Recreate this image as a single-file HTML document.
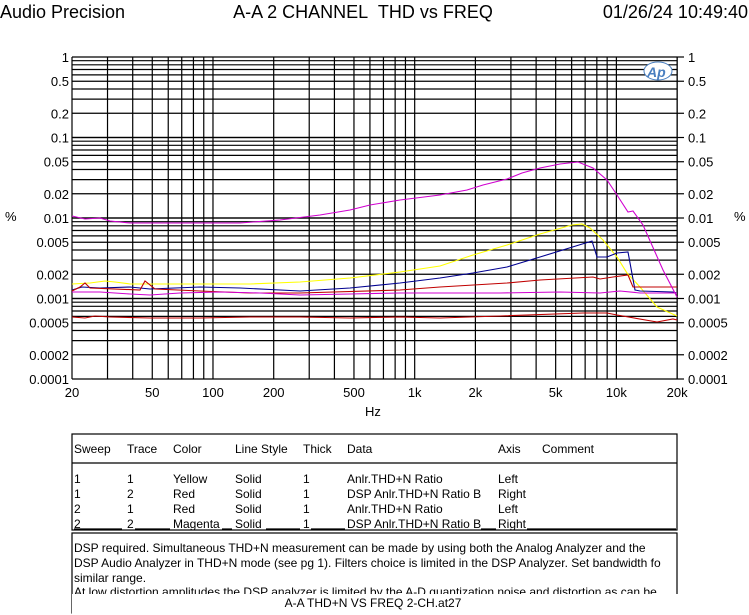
<!DOCTYPE html>
<html><head><meta charset="utf-8"><style>
body{margin:0;background:#fff;}
svg{display:block;font-family:"Liberation Sans",Arial,sans-serif;}
</style></head><body>
<svg width="749" height="615" viewBox="0 0 749 615" xmlns="http://www.w3.org/2000/svg">
<rect width="749" height="615" fill="#fff"/>
<text x="0" y="18" font-size="18">Audio Precision</text>
<text x="363" y="18" font-size="18" text-anchor="middle">A-A 2 CHANNEL&#160; THD vs FREQ</text>
<text x="748" y="18" font-size="18" text-anchor="end">01/26/24 10:49:40</text>
<g id="grid" stroke="#000" stroke-width="1.2"></g>
<g id="lbl" font-size="13"></g>
<text x="5" y="221" font-size="13">%</text>
<text x="734" y="221" font-size="13">%</text>
<text x="373" y="416" font-size="13" text-anchor="middle">Hz</text>
<ellipse cx="658" cy="71" rx="14" ry="9" fill="#fff" stroke="#4a7fc0" stroke-width="1"/>
<text x="647" y="77" font-size="14" font-style="italic" fill="#4a7fc0" font-weight="bold">Ap</text>
<g fill="none" stroke-width="1.1">
<polyline stroke="#ffff00" points="72,284 90,283 105,281 115,282 130,284 150,284 200,284 250,284 300,282 350,278 400,272 440,266 473,255 507,245 540,234 572,225 582,224 590,228 603,240 617,257 627,273 640,287 657,307 677,316"/>
<polyline stroke="#000090" points="72,290 82,287 100,288 130,287 150,289 200,287 240,288 300,291 350,288 400,283 440,278 473,273 507,267 540,257 592,241 597,257 607,257 617,253 628,252 635,290 640,291 673,292 677,293"/>
<polyline stroke="#c00000" points="72,291 80,287 85,283 90,288 140,290 145,281 155,289 200,291 250,293 300,293 400,290 440,287 507,283 540,280 593,277 600,279 613,277 628,275 633,287 677,287"/>
<polyline stroke="#d000d0" points="72,292 100,292 130,294 150,295 180,293 220,292 260,293 300,295 350,294 400,293 440,293 500,293 560,292 600,293 620,291 640,293 677,293"/>
<polyline stroke="#c00000" points="72,317 85,318 95,316 110,317 150,318 200,318 250,317 300,317 350,318 400,317 440,318 500,316 583,313 607,313 617,315 657,322 673,319 677,320"/>
<polyline stroke="#d000d0" points="72,216 85,219 100,218 110,221 130,223 200,223 240,223 280,220 320,215 350,210 370,205 400,200 440,195 467,190 483,185 507,179 522,173 540,168 560,164 578,162 593,168 607,180 617,195 628,212 633,211 643,225 663,270 677,297"/>
</g>
<g fill="none" stroke="#000" stroke-width="1.2">
<rect x="72" y="434" width="605" height="96"/>
<line x1="72" y1="463" x2="677" y2="463"/>
<rect x="72" y="533" width="605" height="80"/>
</g>
<g font-size="12">
<text x="74" y="453">Sweep</text><text x="127" y="453">Trace</text><text x="173" y="453">Color</text><text x="235" y="453">Line Style</text><text x="303" y="453">Thick</text><text x="347" y="453">Data</text><text x="498" y="453">Axis</text><text x="542" y="453">Comment</text>
<text x="74" y="483">1</text><text x="127" y="483">1</text><text x="173" y="483">Yellow</text><text x="235" y="483">Solid</text><text x="303" y="483">1</text><text x="347" y="483">Anlr.THD+N Ratio</text><text x="498" y="483">Left</text>
<text x="74" y="498">1</text><text x="127" y="498">2</text><text x="173" y="498">Red</text><text x="235" y="498">Solid</text><text x="303" y="498">1</text><text x="347" y="498">DSP Anlr.THD+N Ratio B</text><text x="498" y="498">Right</text>
<text x="74" y="513">2</text><text x="127" y="513">1</text><text x="173" y="513">Red</text><text x="235" y="513">Solid</text><text x="303" y="513">1</text><text x="347" y="513">Anlr.THD+N Ratio</text><text x="498" y="513">Left</text>
<text x="74" y="528">2</text><text x="127" y="528">2</text><text x="173" y="528">Magenta</text><text x="235" y="528">Solid</text><text x="303" y="528">1</text><text x="347" y="528">DSP Anlr.THD+N Ratio B</text><text x="498" y="528">Right</text>
<text x="74" y="552">DSP required.  Simultaneous THD+N measurement can be made by using both the Analog Analyzer and the</text>
<text x="74" y="567">DSP Audio Analyzer in THD+N mode (see pg 1).  Filters choice is limited in the DSP Analyzer.  Set bandwidth fo</text>
<text x="74" y="582">similar range.</text>
</g>
<rect x="73" y="586" width="603" height="5" fill="#fff"/>
<g font-size="12"><text x="74" y="596">At low distortion amplitudes the DSP analyzer is limited by the A-D quantization noise and distortion as can be</text></g>
<rect x="72" y="594" width="606" height="21" fill="#fff"/>
<text x="373" y="607" font-size="12" text-anchor="middle">A-A THD+N VS FREQ 2-CH.at27</text>
<script>
(function(){
var ns="http://www.w3.org/2000/svg";
var g=document.getElementById('grid'),L=document.getElementById('lbl');
function X(f){return 72+Math.log10(f/20)*201.7;}
function Y(v){return 57-Math.log10(v)*80.5;}
function ln(x1,y1,x2,y2){var e=document.createElementNS(ns,'line');e.setAttribute('x1',x1);e.setAttribute('y1',y1);e.setAttribute('x2',x2);e.setAttribute('y2',y2);g.appendChild(e);}
function tx(x,y,s,a){var e=document.createElementNS(ns,'text');e.setAttribute('x',x);e.setAttribute('y',y);e.setAttribute('text-anchor',a);e.textContent=s;L.appendChild(e);}
var fs=[20];for(var d=10;d<=10000;d*=10)for(var k=1;k<=9;k++){var f=k*d;if(f>20&&f<=20000)fs.push(f);}
fs.push(20000);
fs.forEach(function(f){var x=X(f);ln(x,Y(1),x,Y(0.0001));});
for(var d=0.0001;d<1;d*=10)for(var k=1;k<=10;k++){var v=k*d;var y=Y(v);ln(72,y,677,y);}
[[1,'1'],[0.5,'0.5'],[0.2,'0.2'],[0.1,'0.1'],[0.05,'0.05'],[0.02,'0.02'],[0.01,'0.01'],[0.005,'0.005'],[0.002,'0.002'],[0.001,'0.001'],[0.0005,'0.0005'],[0.0002,'0.0002'],[0.0001,'0.0001']].forEach(function(p){var y=Y(p[0])+5;tx(69,y,p[1],'end');tx(688,y,p[1],'start');ln(677,Y(p[0]),684,Y(p[0]));});
[[20,'20'],[50,'50'],[100,'100'],[200,'200'],[500,'500'],[1000,'1k'],[2000,'2k'],[5000,'5k'],[10000,'10k'],[20000,'20k']].forEach(function(p){tx(X(p[0]),397,p[1],'middle');});
[[74,122],[135,170],[222,232],[266,300],[311,345],[481,496],[527,676]].forEach(function(s){ln(s[0],529,s[1],529);});
})();
</script>
</svg>
</body></html>
